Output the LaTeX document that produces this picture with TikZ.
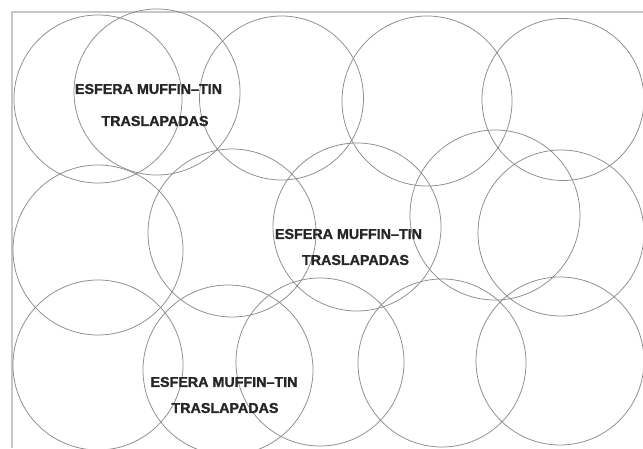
\documentclass[tikz,border=0pt]{standalone}
\usepackage{fontspec}
\setmainfont{Liberation Sans}[BoldFont={Liberation Sans Bold}]
\newfontfamily\lblfont{Liberation Sans Bold}[FakeBold=1.2]
\begin{document}
\begin{tikzpicture}[x=1pt,y=1pt,
  sphere/.style={circle,draw=black!45,line width=0.75pt,inner sep=0pt,outer sep=0pt},
  lbl/.style={inner sep=0pt,font=\lblfont\fontsize{14.3}{16}\selectfont,text=black!85},
  frame/.style={draw=black!22,line width=1.4pt}]
\useasboundingbox (0,0) rectangle (643,448);
\fill[white] (0,0) rectangle (643,448);
% frame (top and left lines)
\coordinate (fbl) at (12,0);
\coordinate (ftl) at (12,436);
\coordinate (ftr) at (643,436);
\draw[frame] (fbl) -- (ftl) -- (ftr);
% spheres: (x, 448 - y_img), diameter
\node[sphere,minimum size=168pt] (c1)  at (98,349) {};
\node[sphere,minimum size=166pt] (c2)  at (157,356) {};
\node[sphere,minimum size=164pt] (c3)  at (281.5,350) {};
\node[sphere,minimum size=170pt] (c4)  at (427,347) {};
\node[sphere,minimum size=162pt] (c5)  at (563,348.5) {};
\node[sphere,minimum size=170pt] (c6)  at (98,198) {};
\node[sphere,minimum size=168pt] (c7)  at (232,215) {};
\node[sphere,minimum size=168pt] (c8)  at (357,221) {};
\node[sphere,minimum size=170pt] (c9)  at (495,233) {};
\node[sphere,minimum size=166pt] (c10) at (561,215) {};
\node[sphere,minimum size=170pt] (c11) at (98,83) {};
\node[sphere,minimum size=170pt] (c12) at (228,78) {};
\node[sphere,minimum size=168pt] (c13) at (320,86) {};
\node[sphere,minimum size=168pt] (c14) at (442,85) {};
\node[sphere,minimum size=168pt] (c15) at (560,87) {};
% labels
\node[lbl] (l1a) at (148.5,359) {ESFERA MUFFIN–TIN};
\node[lbl] (l1b) at (155,327) {TRASLAPADAS};
\node[lbl] (l2a) at (348.5,214) {ESFERA MUFFIN–TIN};
\node[lbl] (l2b) at (355.5,188) {TRASLAPADAS};
\node[lbl] (l3a) at (224,66) {ESFERA MUFFIN–TIN};
\node[lbl] (l3b) at (225,40) {TRASLAPADAS};
\end{tikzpicture}
\end{document}
